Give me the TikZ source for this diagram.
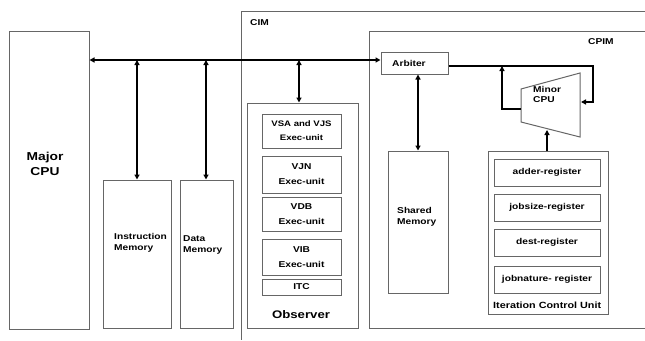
\documentclass[tikz,border=0pt]{standalone}
\usepackage{fontspec}
\setmainfont{Liberation Sans}[FakeStretch=1.2]
\usetikzlibrary{arrows.meta}
\begin{document}
\begin{tikzpicture}[x=1pt,y=-1pt,
  box/.style={draw=black!60,line width=1pt,inner sep=0pt},
  conn/.style={draw=black,line width=1.8pt,-{Triangle[length=5pt,width=5pt]}},
  dconn/.style={draw=black,line width=1.8pt,{Triangle[length=5pt,width=5pt]}-{Triangle[length=5pt,width=5pt]}},
  txt/.style={font=\bfseries\fontsize{8.5}{10.5}\selectfont,inner sep=0pt,align=left},
  ctxt/.style={font=\bfseries\fontsize{8.5}{15}\selectfont,inner sep=0pt,align=center},
  frame/.style={draw=black!60,line width=1pt}]
\useasboundingbox[fill=white] (0,0) rectangle (645,340);
% Major CPU
\node[box,minimum width=80pt,minimum height=298pt] (cpu) at (49,180) {};
\node[font=\bfseries\fontsize{11.5}{15}\selectfont,align=center,inner sep=0pt] (cputxt) at (45,164) {Major\\CPU};
% memories
\node[box,minimum width=68pt,minimum height=148pt] (imem) at (137,254) {};
\node[txt,anchor=west] (imemtxt) at (114,243) {Instruction\\Memory};
\node[box,minimum width=53pt,minimum height=148pt] (dmem) at (206.5,254) {};
\node[txt,anchor=west] (dmemtxt) at (183,245) {Data\\Memory};
% CIM frame
\draw[frame] (645,11) -- (241,11) -- (241,340);
\node[txt,anchor=west] (cim) at (250,23) {CIM};
% Observer
\node[box,minimum width=111pt,minimum height=225pt] (obs) at (302.5,215.5) {};
\node[box,minimum width=79pt,minimum height=34pt] (vsa) at (301.5,131) {};
\node[ctxt,font=\bfseries\fontsize{8}{14}\selectfont] at (vsa) {VSA and VJS\\Exec-unit};
\node[box,minimum width=79pt,minimum height=37pt] (vjn) at (301.5,174.5) {};
\node[ctxt] at (vjn) {VJN\\Exec-unit};
\node[box,minimum width=79pt,minimum height=34pt] (vdb) at (301.5,214) {};
\node[ctxt] at (vdb) {VDB\\Exec-unit};
\node[box,minimum width=79pt,minimum height=36pt] (vib) at (301.5,257) {};
\node[ctxt] at (vib) {VIB\\Exec-unit};
\node[box,minimum width=79pt,minimum height=16pt] (itc) at (301.5,287) {};
\node[ctxt] at (itc) {ITC};
\node[font=\bfseries\fontsize{11}{13}\selectfont,inner sep=0pt] (obstxt) at (301,315) {Observer};
% CPIM frame
\draw[frame] (645,31) -- (369,31) -- (369,328) -- (645,328);
\node[txt,anchor=west] (cpim) at (588,42) {CPIM};
% Arbiter
\node[box,minimum width=67pt,minimum height=22pt] (arb) at (414.5,63) {};
\node[txt,anchor=west] (arbtxt) at (392,63) {Arbiter};
% Shared memory
\node[box,minimum width=60pt,minimum height=142pt] (smem) at (418,222) {};
\node[txt,anchor=west] (smemtxt) at (397,217) {Shared\\Memory};
% Minor CPU trapezoid
\coordinate (tl) at (521,89);
\coordinate (bl) at (521,122);
\coordinate (tr) at (580,73);
\coordinate (br) at (580,137);
\draw[frame] (tl) -- (tr) -- (br) -- (bl) -- cycle;
\node[txt,anchor=north west] (minor) at (533,86) {Minor\\CPU};
\coordinate (mcpuR) at (581,102);
\coordinate (mcpuL) at (521,109);
\coordinate (mcpuB) at (547,130);
% ICU
\node[box,minimum width=120pt,minimum height=163pt] (icu) at (548,232.5) {};
\node[box,minimum width=106pt,minimum height=27pt] (r1) at (547,172.5) {};
\node[ctxt] at (r1) {adder-register};
\node[box,minimum width=106pt,minimum height=27pt] (r2) at (547,207.5) {};
\node[ctxt] at (r2) {jobsize-register};
\node[box,minimum width=106pt,minimum height=27pt] (r3) at (547,242.5) {};
\node[ctxt] at (r3) {dest-register};
\node[box,minimum width=106pt,minimum height=27pt] (r4) at (547,279.5) {};
\node[ctxt] at (r4) {jobnature- register};
\node[ctxt,font=\bfseries\fontsize{9}{11}\selectfont,anchor=west] (icutxt) at (493,305) {Iteration Control Unit};
% bus
\draw[dconn] (cpu.east |- 0,60) -- (arb.west |- 0,60);
\coordinate (j1) at (137,60);
\coordinate (j2) at (206,60);
\coordinate (j3) at (299,60);
\draw[dconn] (j1) -- (imem.north -| j1);
\draw[dconn] (j2) -- (dmem.north -| j2);
\draw[dconn] (j3) -- (obs.north -| j3);
\draw[dconn] (arb.south -| smem.north) -- (smem.north);
% arbiter to minor CPU
\coordinate (c1) at (593,66);
\coordinate (j4) at (502,66);
\draw[conn] (arb.east |- c1) -- (c1) -- (c1 |- mcpuR) -- (mcpuR);
\draw[conn] (mcpuL) -- (j4 |- mcpuL) -- (j4);
\draw[conn] (icu.north -| mcpuB) -- (mcpuB);
\end{tikzpicture}
\end{document}
